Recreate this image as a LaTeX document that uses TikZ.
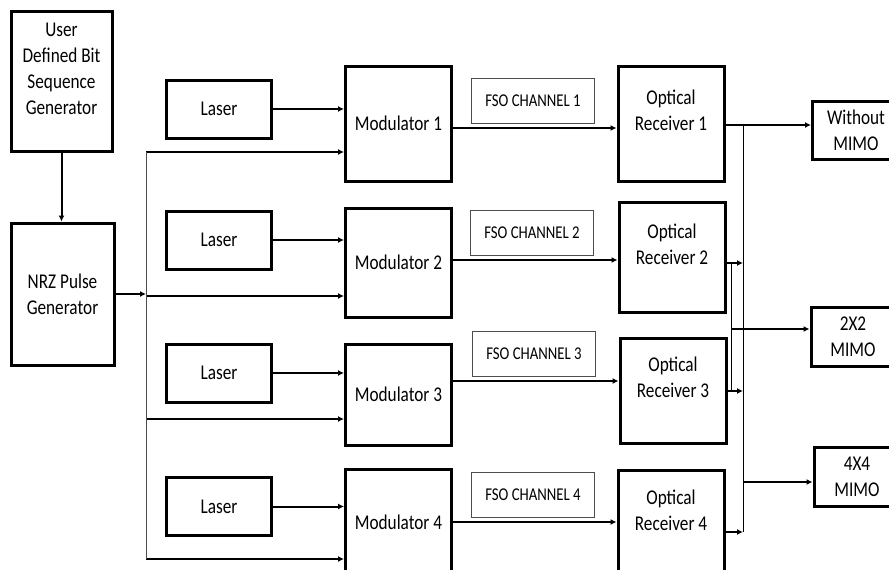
\documentclass[tikz,border=0pt]{standalone}
\usepackage{fontspec}
\setmainfont{Carlito}[FakeStretch=0.82]
\usetikzlibrary{positioning,calc,arrows.meta}

\begin{document}
\begin{tikzpicture}[x=1pt, y=-1pt,
    blk/.style={rectangle, draw, line width=3pt, align=center, inner sep=0pt, font=\fontsize{21}{26}\selectfont},
    chan/.style={rectangle, draw=black!70, line width=1pt, minimum width=123pt, minimum height=45pt, font=\fontsize{18}{22}\selectfont},
    sig/.style={-{Latex[length=6pt,width=6pt]}, line width=2pt},
    wire/.style={line width=1pt}
]
    \useasboundingbox (0,0) rectangle (889,570);

    % Source
    \node[blk, minimum width=101pt, minimum height=140pt] (usr) at (61.5,81.5) {User\\Defined Bit\\Sequence\\Generator\\~};
    \node[blk, minimum width=103pt, minimum height=142pt] (nrz) at (62.5,294) {NRZ Pulse\\Generator};
    \draw[sig] (usr.south) -- (usr.south |- nrz.north);

    % Four branches
    \foreach \i/\ly/\my/\mh/\cx/\cy/\rx/\ry/\rh/\by/\mo in {
        1/109/123.5/115/533/101/671/123.5/115/152/128,
        2/240/262.5/109/532/233/672/257/110/296/260,
        3/373/394.5/101/534/353.5/673/390.5/105/419/381,
        4/506.5/522/106/533/495/671/523/106/559/522} {
        \node[blk, minimum width=105pt, minimum height=58pt] (las\i) at (219,\ly) {Laser};
        \node[blk, minimum width=106pt, minimum height=\mh pt] (mod\i) at (398.5,\my) {Modulator \i};
        \node[chan] (ch\i) at (\cx,\cy) {FSO CHANNEL \i};
        \node[blk, minimum width=106pt, minimum height=\rh pt] (rx\i) at (\rx,\ry) {Optical\\Receiver \i\\~};
        \coordinate (bus\i) at (146,\by);
        \draw[sig] (las\i.east) -- (las\i.east -| mod\i.west);
        \draw[sig] (bus\i) -- (bus\i -| mod\i.west);
        \draw[sig] (mod\i.east |- 0,\mo) -- (rx\i.west |- 0,\mo);
    }
    \draw[wire, black!70] (bus1) -- (bus4);
    \draw[sig] (nrz.east) -- (nrz.east -| bus1);

    % Outputs
    \node[blk, minimum width=87pt, minimum height=58pt] (wo) at (856,130) {Without\\MIMO};
    \node[blk, minimum width=84pt, minimum height=59pt] (m22) at (853,336.5) {2X2\\MIMO};
    \node[blk, minimum width=86pt, minimum height=59pt] (m44) at (857,476.5) {4X4\\MIMO};

    \coordinate (v1) at (743,125);
    \coordinate (v2) at (743,532);
    \coordinate (v3) at (743,482);
    \coordinate (w1) at (731,263);
    \coordinate (w2) at (731,391);
    \coordinate (w3) at (731,329);
    \draw[sig] (rx1.east |- v1) -- (v1 -| wo.west);
    \draw[wire] (v1) -- (v2);
    \draw[wire] (w1) -- (w2);
    \draw[sig] (rx2.east |- w1) -- (v1 |- w1);
    \draw[sig] (rx3.east |- w2) -- (v1 |- w2);
    \draw[sig] (rx4.east |- v2) -- (v2);
    \draw[sig] (w3) -- (w3 -| m22.west);
    \draw[sig] (v3) -- (v3 -| m44.west);
\end{tikzpicture}
\end{document}
